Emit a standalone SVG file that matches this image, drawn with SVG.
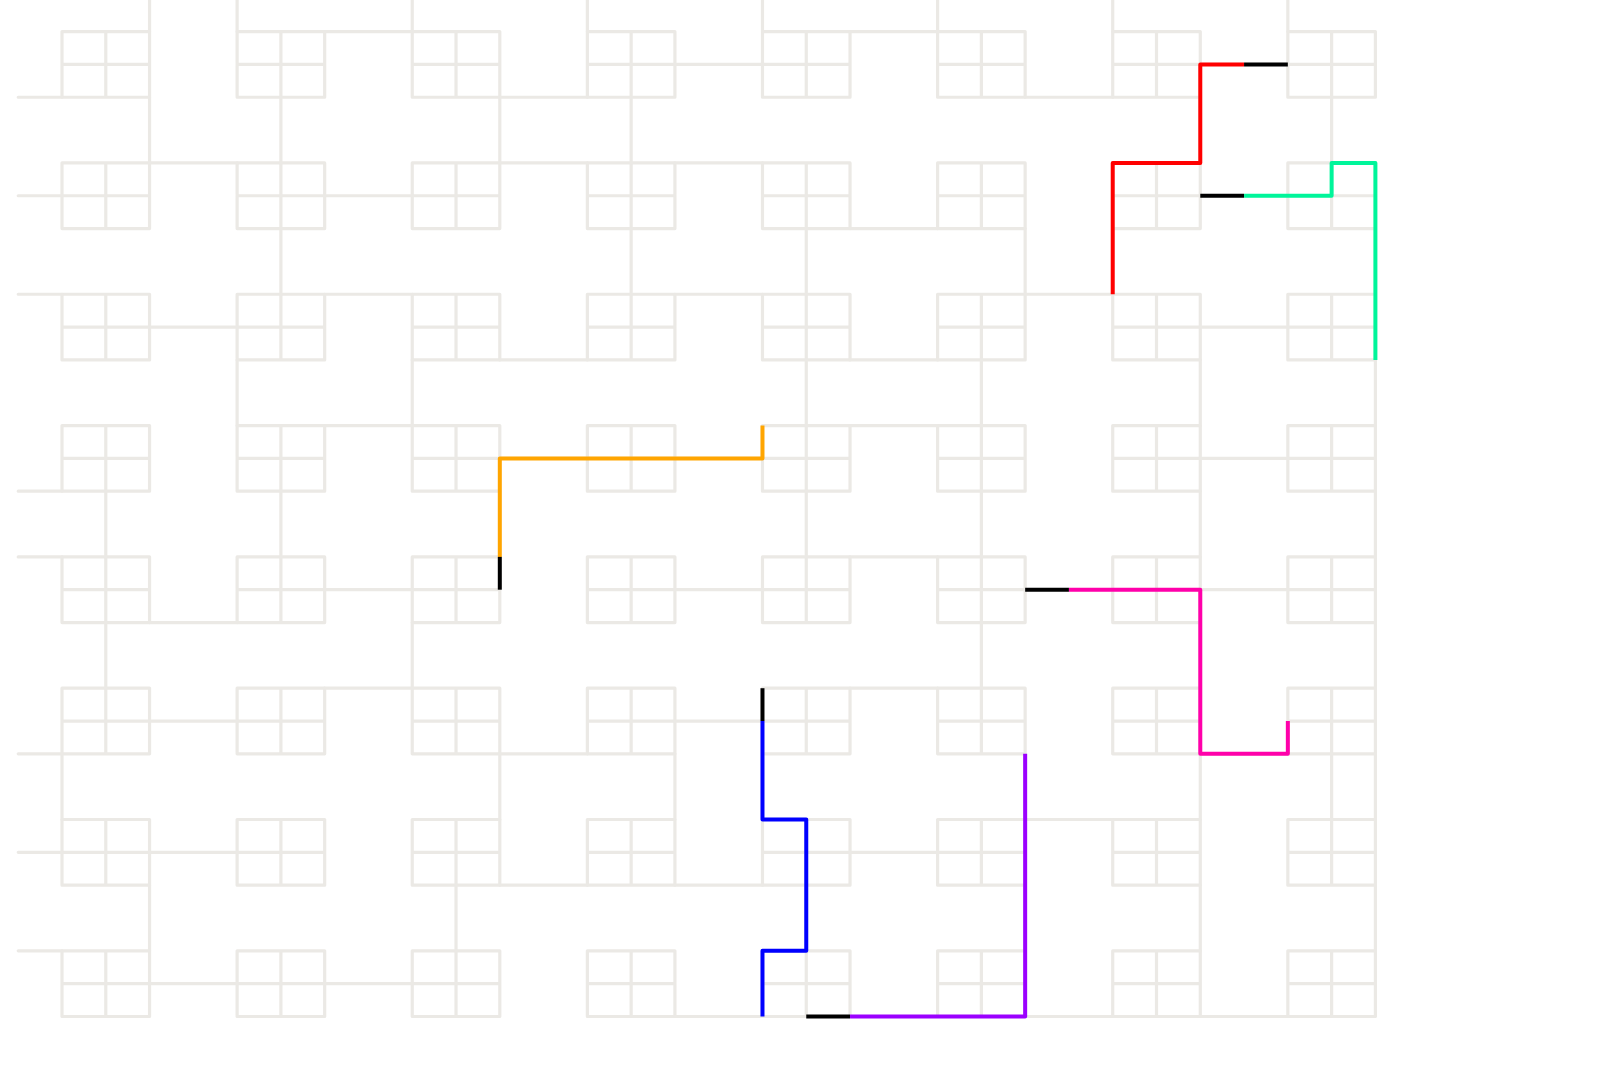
<svg xmlns="http://www.w3.org/2000/svg" xmlns:xlink="http://www.w3.org/1999/xlink" width="1600" height="1080" viewBox="0 0 1600 1080">
<style>
.g{fill:none;stroke:#ebe9e5;stroke-width:3.2;stroke-linecap:round;stroke-linejoin:round;vector-effect:non-scaling-stroke}
.p{fill:none;stroke-width:4;stroke-linecap:butt;stroke-linejoin:round;vector-effect:non-scaling-stroke}
.k{stroke:#000000}
</style>
<defs>
<path id="bx" class="g" d="M0 0H2M0 1H2M0 2H2M0 0V2M1 0V2M2 0V2"/>
</defs>
<rect x="0" y="0" width="1600" height="1080" fill="#ffffff"/>
<g transform="matrix(43.78 0 0 32.83 18.22 -1.23)">
<g id="boxes">
<use href="#bx" x="1" y="1"/><use href="#bx" x="5" y="1"/><use href="#bx" x="9" y="1"/><use href="#bx" x="13" y="1"/><use href="#bx" x="17" y="1"/><use href="#bx" x="21" y="1"/><use href="#bx" x="25" y="1"/><use href="#bx" x="29" y="1"/>
<use href="#bx" x="1" y="5"/><use href="#bx" x="5" y="5"/><use href="#bx" x="9" y="5"/><use href="#bx" x="13" y="5"/><use href="#bx" x="17" y="5"/><use href="#bx" x="21" y="5"/><use href="#bx" x="25" y="5"/><use href="#bx" x="29" y="5"/>
<use href="#bx" x="1" y="9"/><use href="#bx" x="5" y="9"/><use href="#bx" x="9" y="9"/><use href="#bx" x="13" y="9"/><use href="#bx" x="17" y="9"/><use href="#bx" x="21" y="9"/><use href="#bx" x="25" y="9"/><use href="#bx" x="29" y="9"/>
<use href="#bx" x="1" y="13"/><use href="#bx" x="5" y="13"/><use href="#bx" x="9" y="13"/><use href="#bx" x="13" y="13"/><use href="#bx" x="17" y="13"/><use href="#bx" x="21" y="13"/><use href="#bx" x="25" y="13"/><use href="#bx" x="29" y="13"/>
<use href="#bx" x="1" y="17"/><use href="#bx" x="5" y="17"/><use href="#bx" x="9" y="17"/><use href="#bx" x="13" y="17"/><use href="#bx" x="17" y="17"/><use href="#bx" x="21" y="17"/><use href="#bx" x="25" y="17"/><use href="#bx" x="29" y="17"/>
<use href="#bx" x="1" y="21"/><use href="#bx" x="5" y="21"/><use href="#bx" x="9" y="21"/><use href="#bx" x="13" y="21"/><use href="#bx" x="17" y="21"/><use href="#bx" x="21" y="21"/><use href="#bx" x="25" y="21"/><use href="#bx" x="29" y="21"/>
<use href="#bx" x="1" y="25"/><use href="#bx" x="5" y="25"/><use href="#bx" x="9" y="25"/><use href="#bx" x="13" y="25"/><use href="#bx" x="17" y="25"/><use href="#bx" x="21" y="25"/><use href="#bx" x="25" y="25"/><use href="#bx" x="29" y="25"/>
<use href="#bx" x="1" y="29"/><use href="#bx" x="5" y="29"/><use href="#bx" x="9" y="29"/><use href="#bx" x="13" y="29"/><use href="#bx" x="17" y="29"/><use href="#bx" x="21" y="29"/><use href="#bx" x="25" y="29"/><use href="#bx" x="29" y="29"/>
</g>
<g id="connectors">
<path class="g" d="M3 0V1M5 0V1M9 0V1M13 0V1M17 0V1M21 0V1M25 0V1M29 0V1
M0 3H1M0 6H1M0 9H1M0 15H1M0 17H1M0 23H1M0 26H1M0 29H1
M7 1H9M11 3H13M15 2H17M19 1H21M23 3H25M27 2H29
M3 5H5M7 6H9M11 5H13M15 5H17M19 7H21M27 6H29
M3 10H5M7 9H9M11 11H13M15 9H17M19 11H21M23 9H25M27 10H29
M7 13H9M11 14H13M15 14H17M19 13H21M27 14H29
M3 19H5M7 18H9M15 18H17M19 17H21M23 18H25M27 18H29
M3 22H5M7 21H9M11 23H13M15 22H17M19 21H21M27 23H29
M3 26H5M11 27H13M15 27H17M19 26H21M23 25H25
M3 30H5M7 30H9M15 31H17M19 31H21M23 31H25M27 31H29
M3 3V5M6 3V5M11 3V5M14 3V5M27 3V5M30 3V5
M6 7V9M14 7V9M18 7V9M23 7V9M25 7V9M31 7V9
M5 11V13M9 11V13M18 11V13M22 11V13M27 11V13M31 11V13
M2 15V17M6 15V17M11 15V17M18 15V17M22 15V17M27 15V17M31 15V17
M2 19V21M9 19V21M22 19V21M27 19V21M31 19V21
M1 23V25M11 23V25M15 23V25M17 23V25M23 23V25M27 23V25M30 23V25M31 23V25
M3 27V29M10 27V29M18 27V29M23 27V29M27 27V29M31 27V29"/>
</g>
<g id="paths">
<path class="p" stroke="#ff0000" d="M25 9V5H27V2H28"/>
<path class="p k" d="M28 2H29"/>
<path class="p k" d="M27 6H28"/>
<path class="p" stroke="#00f59a" d="M28 6H30V5H31V11"/>
<path class="p" stroke="#ffa500" d="M17 13V14H11V17"/>
<path class="p k" d="M11 17V18"/>
<path class="p k" d="M23 18H24"/>
<path class="p" stroke="#ff00aa" d="M24 18H27V23H29V22"/>
<path class="p k" d="M17 21V22"/>
<path class="p" stroke="#0000ff" d="M17 22V25H18V29H17V31"/>
<path class="p k" d="M18 31H19"/>
<path class="p" stroke="#9b00ff" d="M19 31H23V23"/>
</g>
</g>
</svg>
